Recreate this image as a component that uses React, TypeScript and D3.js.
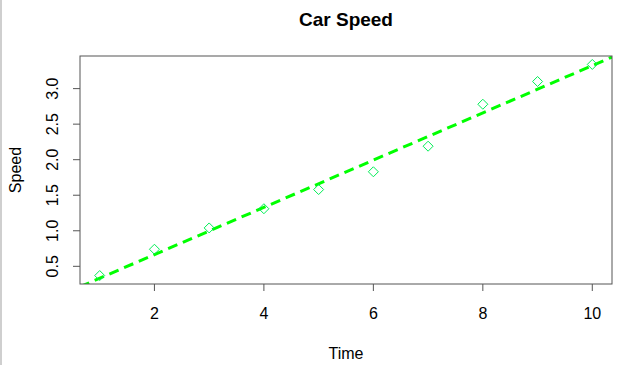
import React from 'react';
import * as d3 from 'd3';

// readings from the reference
const time = [1, 2, 3, 4, 5, 6, 7, 8, 9, 10];
const speed = [0.37, 0.74, 1.04, 1.31, 1.58, 1.83, 2.19, 2.78, 3.1, 3.34];
const xTicks = [2, 4, 6, 8, 10];
const yTicks = [0.5, 1.0, 1.5, 2.0, 2.5, 3.0];

const width = 619;
const height = 365;
const margin = { top: 56, right: 7, bottom: 81, left: 80 };

// R style 4% padding on the data range
const pad = (lo: number, hi: number): [number, number] => {
  const r = hi - lo;
  return [lo - 0.04 * r, hi + 0.04 * r];
};

const App: React.FC = () => {
  const x = d3.scaleLinear()
    .domain(pad(d3.min(time)!, d3.max(time)!))
    .range([margin.left, width - margin.right]);
  const y = d3.scaleLinear()
    .domain(pad(d3.min(speed)!, d3.max(speed)!))
    .range([height - margin.bottom, margin.top]);

  // least squares fit, like abline(lm(speed ~ time))
  const mx = d3.mean(time)!;
  const my = d3.mean(speed)!;
  const slope = d3.sum(time, (t, i) => (t - mx) * (speed[i] - my)) / d3.sum(time, t => (t - mx) ** 2);
  const intercept = my - slope * mx;
  const [x0, x1] = x.domain();
  const fitLine = d3.line<number>().x(d => x(d)).y(d => y(intercept + slope * d));

  const plotBottom = height - margin.bottom;
  const font = 'Liberation Sans, Arial, Helvetica, sans-serif';
  const axisColor = '#555';

  return (
    <div style={{ position: 'fixed', left: 0, top: 0 }}>
      <svg width={width} height={height} style={{ display: 'block', background: '#fff' }} fontFamily={font}>
        <defs>
          <clipPath id="plot-clip">
            <rect x={margin.left} y={margin.top} width={width - margin.left - margin.right} height={plotBottom - margin.top} />
          </clipPath>
        </defs>
        <line x1={1} x2={1} y1={0} y2={height} stroke="#cfcfcf" strokeWidth={2} />

        <text x={(margin.left + width - margin.right) / 2} y={26} textAnchor="middle" fontWeight="bold" fontSize={19} fill="#000">
          Car Speed
        </text>

        <g clipPath="url(#plot-clip)">
          <path d={fitLine([x0, x1]) ?? ''} fill="none" stroke="#00ff00" strokeWidth={3} strokeDasharray="10 6" />
        </g>

        {time.map((t, i) => {
          const cx = x(t);
          const cy = y(speed[i]);
          const r = 5;
          return (
            <path
              key={t}
              d={`M${cx},${cy - r}L${cx + r},${cy}L${cx},${cy + r}L${cx - r},${cy}Z`}
              fill="none"
              stroke="#00ee55"
              strokeWidth={1}
            />
          );
        })}

        <rect
          x={margin.left}
          y={margin.top}
          width={width - margin.left - margin.right}
          height={plotBottom - margin.top}
          fill="none"
          stroke={axisColor}
          strokeWidth={1}
        />

        {xTicks.map(t => (
          <g key={t} transform={`translate(${x(t)},0)`}>
            <line y1={plotBottom} y2={plotBottom + 7} stroke={axisColor} />
            <text y={319} textAnchor="middle" fontSize={16} fill="#000">{t}</text>
          </g>
        ))}
        <text x={(margin.left + width - margin.right) / 2} y={359} textAnchor="middle" fontSize={16} fill="#000">Time</text>

        {yTicks.map(t => (
          <g key={t} transform={`translate(0,${y(t)})`}>
            <line x1={margin.left - 7} x2={margin.left} stroke={axisColor} />
            <text transform="translate(58,0) rotate(-90)" textAnchor="middle" fontSize={16} fill="#000">
              {t.toFixed(1)}
            </text>
          </g>
        ))}
        <text
          transform={`translate(21,${(margin.top + plotBottom) / 2}) rotate(-90)`}
          textAnchor="middle"
          fontSize={16}
          fill="#000"
        >
          Speed
        </text>
      </svg>
    </div>
  );
};

export default App;
